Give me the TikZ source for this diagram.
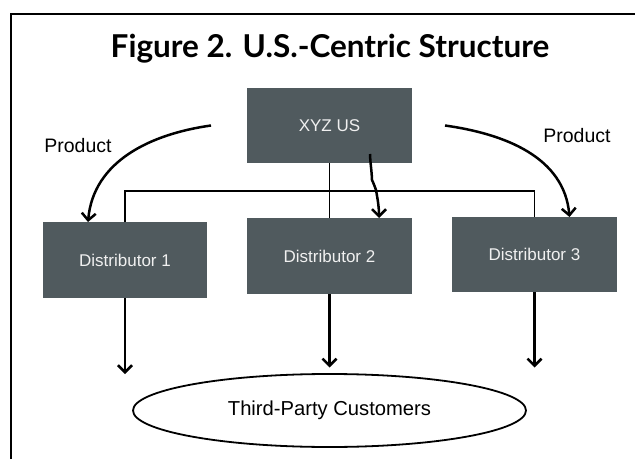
\documentclass[tikz,border=0pt]{standalone}
\usepackage{fontspec}
\setmainfont{Liberation Sans}
\newfontfamily\titlefont{Lato}
\usetikzlibrary{shapes, positioning, arrows.meta}
\definecolor{slate}{RGB}{80,90,94}

\begin{document}
\begin{tikzpicture}[x=1pt, y=1pt, node distance={40pt}, thick,
        main/.style = {fill=slate, text=white!94!black, minimum width=165pt,
                        minimum height=75pt, inner sep=0pt, outer sep=0pt,
                        font=\fontsize{17}{20}\selectfont},
        arr/.style = {line width=2.5pt, -{Straight Barb[length=7pt, width=14pt]}},
        link/.style = {line width=1.3pt}]
        \useasboundingbox (0,0) rectangle (635,459);
        \draw[line width=2pt] (11,0) |- (635,444.5);

        \node (title) at (330,410) {\titlefont\bfseries\fontsize{31.5}{35}\selectfont Figure 2. U.S.-Centric Structure};

        \node[main] (us) at (329.5,333.5) {XYZ US};
        \node[main, minimum height=76pt] (d2) [below=55pt of us] {Distributor 2};
        \node[main, minimum width=164pt, minimum height=76pt] (d1) [left=40pt of d2, yshift=-4pt] {Distributor 1};
        \node[main] (d3) [right=40pt of d2, yshift=1.5pt] {Distributor 3};

        \node[ellipse, draw, line width=1.8pt, minimum width=393pt, minimum height=73pt,
              inner sep=0pt, outer sep=0pt, font=\fontsize{20.2}{23}\selectfont]
              (tpc) [below=80pt of d2] {Third-Party Customers};

        \node[font=\fontsize{19.5}{22}\selectfont] (pl) at (78,313) {Product};
        \node[font=\fontsize{19.5}{22}\selectfont] (pr) at (577,323) {Product};

        \draw[link] (us) -- (d2);
        \draw[link] (d1.north) -- ++(0,31) -| (d3.north);

        \draw[arr] ([xshift=-36pt]us.west) to [out=188, in=85] ([xshift=-37pt]d1.north);
        \draw[arr] ([xshift=33pt]us.east) to [out=-8, in=95] ([xshift=35pt]d3.north);
        \draw[arr] ([xshift=40.5pt, yshift=9pt]us.south) to [out=-88, in=92] ++(2,-26)
              to [out=-65, in=110] ++(4,-10) to [out=-80, in=90] ([xshift=49.5pt]d2.north);

        \draw[arr] (d1.south) -- (d1.south |- tpc.north);
        \draw[arr, shorten >=6.5pt] (d2) -- (tpc);
        \draw[arr, shorten >=6.5pt] (d3.south) -- (d3.south |- tpc.north);
    \end{tikzpicture}
\end{document}
